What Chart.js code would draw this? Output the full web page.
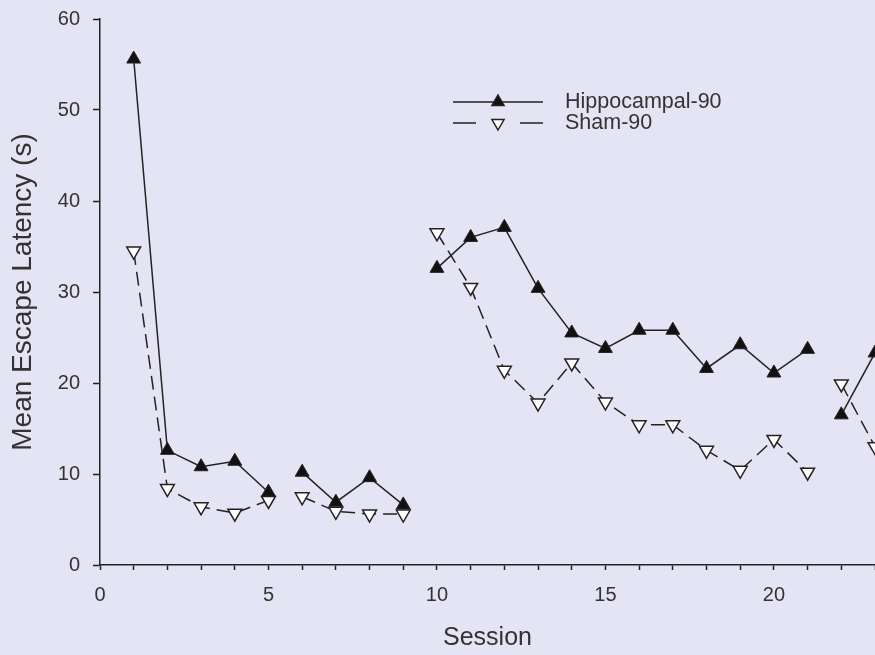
<!DOCTYPE html>
<html lang="en">
  <head>
    <meta charset="UTF-8" />
    <title>Escape latency</title>
    <script src="https://cdn.jsdelivr.net/npm/chart.js@4.4.0/dist/chart.umd.min.js"></script>
    <style>
      html, body { margin: 0; padding: 0; background: #e4e4f4; }
      canvas { display: block; }
    </style>
  </head>
  <body>
    <canvas id="latency" width="875" height="655"></canvas>

    <script>
      const sessions = [1, 2, 3, 4, 5, 6, 7, 8, 9, 10, 11, 12, 13, 14, 15, 16, 17, 18, 19, 20, 21, 22, 23]
      const hippocampal90 = [55.6, 12.6, 10.8, 11.4, 8.0, 10.2, 6.9, 9.6, 6.6, 32.6, 36.0, 37.1, 30.4, 25.5, 23.8, 25.8, 25.8, 21.6, 24.2, 21.1, 23.7, 16.5, 23.3]
      const sham90 = [34.5, 8.4, 6.4, 5.7, 7.1, 7.5, 5.9, 5.6, 5.6, 36.5, 30.5, 21.4, 17.8, 22.2, 17.9, 15.4, 15.4, 12.6, 10.4, 13.8, 10.2, 19.9, 13.0]
      // blocks end after these sessions, no line across the break
      const blockEnds = [5, 9, 21]
      const xLabels = [0, 5, 10, 15, 20]

      const INK = '#222'
      const TEXT = '#333'
      const FONT = 'Liberation Sans, Arial, sans-serif'

      function toPoints(values) {
        return sessions.map((s, i) => ({ x: s, y: values[i] }))
      }

      const breakSegment = {
        borderColor: (ctx) => (blockEnds.includes(ctx.p0.parsed.x) ? 'transparent' : undefined),
      }

      function triangle(ctx, x, y, r, down, fill) {
        const dir = down ? -1 : 1
        ctx.beginPath()
        ctx.moveTo(x, y - dir * r)
        ctx.lineTo(x + r * 0.866, y + dir * r * 0.5)
        ctx.lineTo(x - r * 0.866, y + dir * r * 0.5)
        ctx.closePath()
        ctx.fillStyle = fill
        ctx.fill()
        ctx.lineWidth = 1.5
        ctx.strokeStyle = INK
        ctx.stroke()
      }

      // legend drawn by hand: line sample with the marker in the middle
      const lineLegend = {
        id: 'lineLegend',
        afterDraw(chart) {
          const ctx = chart.ctx
          const x0 = 453, x1 = 543, xm = 498, textX = 565
          const rows = [102, 123]
          ctx.save()
          chart.data.datasets.forEach((ds, i) => {
            const y = rows[i]
            ctx.strokeStyle = INK
            ctx.lineWidth = 1.5
            ctx.setLineDash([])
            ctx.beginPath()
            if (ds.borderDash && ds.borderDash.length) {
              ctx.moveTo(x0, y); ctx.lineTo(x0 + 23, y)
              ctx.moveTo(x1 - 23, y); ctx.lineTo(x1, y)
            } else {
              ctx.moveTo(x0, y); ctx.lineTo(x1, y)
            }
            ctx.stroke()
            triangle(ctx, xm, y, 7, ds.pointRotation === 180, ds.pointBackgroundColor)
            ctx.fillStyle = TEXT
            ctx.font = '21.5px ' + FONT
            ctx.textBaseline = 'middle'
            ctx.textAlign = 'left'
            ctx.fillText(ds.label, textX, y)
          })
          ctx.restore()
        },
      }

      new Chart(document.getElementById('latency'), {
        type: 'line',
        data: {
          datasets: [
            {
              label: 'Hippocampal-90',
              data: toPoints(hippocampal90),
              borderColor: INK,
              borderWidth: 1.5,
              pointStyle: 'triangle',
              pointRadius: 8,
              pointBackgroundColor: '#111',
              pointBorderColor: INK,
              pointBorderWidth: 1,
              pointRotation: 0,
              segment: breakSegment,
            },
            {
              label: 'Sham-90',
              data: toPoints(sham90),
              borderColor: INK,
              borderWidth: 1.5,
              borderDash: [14, 7],
              pointStyle: 'triangle',
              pointRotation: 180,
              pointRadius: 8,
              pointBackgroundColor: '#ffffff',
              pointBorderColor: INK,
              pointBorderWidth: 1.5,
              segment: breakSegment,
            },
          ],
        },
        options: {
          responsive: false,
          animation: false,
          layout: { autoPadding: false, padding: { top: 19, left: 0, right: 0, bottom: 0 } },
          plugins: {
            legend: { display: false },
            tooltip: { enabled: false },
          },
          scales: {
            x: {
              type: 'linear',
              min: 0,
              max: 23,
              afterFit: (scale) => {
                scale.height = 90
                scale.paddingLeft = 0
                scale.paddingRight = 0
              },
              border: { color: INK, width: 1.5 },
              grid: { drawOnChartArea: false, drawTicks: true, tickLength: 5, color: INK, tickWidth: 1.5 },
              ticks: {
                stepSize: 1,
                autoSkip: false,
                maxRotation: 0,
                padding: 13,
                color: TEXT,
                font: { family: FONT, size: 20 },
                callback: (v) => (xLabels.includes(v) ? String(v) : ''),
              },
              title: {
                display: true,
                text: 'Session',
                color: TEXT,
                font: { family: FONT, size: 25 },
                padding: { top: 0, bottom: 2 },
              },
            },
            y: {
              min: 0,
              max: 60,
              afterFit: (scale) => {
                scale.width = 100
                scale.paddingTop = 0
                scale.paddingBottom = 0
              },
              border: { color: INK, width: 1.5 },
              grid: { drawOnChartArea: false, drawTicks: true, tickLength: 7, color: INK, tickWidth: 1.5 },
              ticks: {
                stepSize: 10,
                padding: 13,
                color: TEXT,
                font: { family: FONT, size: 20 },
              },
              title: {
                display: true,
                text: 'Mean Escape Latency (s)',
                color: TEXT,
                font: { family: FONT, size: 28 },
                padding: { top: 6, bottom: 0 },
              },
            },
          },
        },
        plugins: [lineLegend],
      })
    </script>
  </body>
</html>
